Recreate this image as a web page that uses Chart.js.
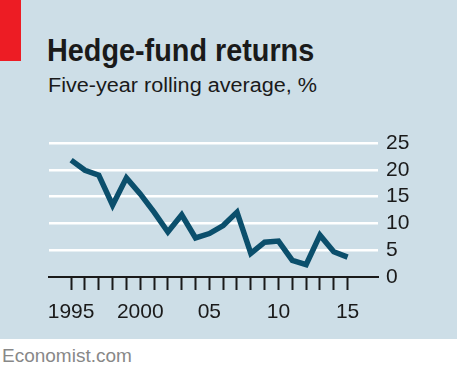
<!DOCTYPE html>
<html>
<head>
<meta charset="utf-8">
<script src="https://cdn.jsdelivr.net/npm/chart.js@4"></script>
<style>
  html, body { margin: 0; padding: 0; background: #fff; }
  body { width: 458px; height: 376px; position: relative; overflow: hidden; font-family: "Liberation Sans", sans-serif; }
  #panel { position: absolute; left: 0; top: 0; width: 457px; height: 339px; background: #cddee7; }
  #redbar { position: absolute; left: 0; top: 0; width: 21px; height: 61px; background: #ed1c24; }
  #title { position: absolute; left: 47px; top: 32px; font: bold 32px "Liberation Sans", sans-serif; color: #1a1a1a; white-space: nowrap; transform: scaleX(0.9); transform-origin: left top; }
  #subtitle { position: absolute; left: 48px; top: 74px; font: 20px "Liberation Sans", sans-serif; color: #1a1a1a; white-space: nowrap; transform: scaleX(1.08); transform-origin: left top; }
  #source { position: absolute; left: 2px; top: 345px; font: 19px "Liberation Sans", sans-serif; color: #888; white-space: nowrap; }
  #wrap { position: absolute; left: 0; top: 110px; width: 458px; height: 221px; }
</style>
</head>
<body>
<div id="panel"></div>
<div id="redbar"></div>
<div id="title">Hedge-fund returns</div>
<div id="subtitle">Five-year rolling average, %</div>
<div id="wrap"><canvas id="chart"></canvas></div>
<div id="source">Economist.com</div>
<script>
// Five-year rolling average hedge-fund returns, %
const years = [1995, 1996, 1997, 1998, 1999, 2000, 2001, 2002, 2003, 2004, 2005,
               2006, 2007, 2008, 2009, 2010, 2011, 2012, 2013, 2014, 2015];
const returns = [21.8, 19.9, 19.0, 13.4, 18.5, 15.5, 12.1, 8.4, 11.6, 7.3, 8.1,
                 9.6, 12.1, 4.4, 6.5, 6.7, 3.1, 2.3, 7.8, 4.7, 3.7];
const yTicks = [0, 5, 10, 15, 20, 25];
const xLabels = { 1995: '1995', 2000: '2000', 2005: '05', 2010: '10', 2015: '15' };

const ink = '#1a1a1a';

new Chart(document.getElementById('chart'), {
  type: 'line',
  data: {
    datasets: [{
      data: years.map((y, i) => ({ x: y, y: returns[i] })),
      borderColor: '#0b4f6c',
      borderWidth: 5.5,
      tension: 0,
      pointRadius: 0,
      fill: false,
      clip: false,
    }],
  },
  options: {
    responsive: true,
    maintainAspectRatio: false,
    animation: false,
    layout: { padding: { left: 49, top: 33, right: 0, bottom: 0 } },
    plugins: { legend: { display: false }, tooltip: { enabled: false } },
    scales: {
      x: {
        type: 'linear',
        min: 1993.4,
        max: 2017.2,
        afterBuildTicks: (scale) => { scale.ticks = years.map(v => ({ value: v })); },
        afterFit: (scale) => { scale.height = 54; },
        grid: { drawOnChartArea: false, drawTicks: true, tickLength: 13, tickWidth: 2, tickColor: ink },
        border: { display: true, color: ink, width: 2 },
        ticks: {
          autoSkip: false,
          maxRotation: 0,
          padding: 10,
          color: ink,
          font: { family: 'Liberation Sans', size: 21 },
          callback: (v) => xLabels[v] || '',
        },
      },
      y: {
        position: 'right',
        min: 0,
        max: 25,
        afterBuildTicks: (scale) => { scale.ticks = yTicks.map(v => ({ value: v })); },
        afterFit: (scale) => { scale.width = 80; },
        grid: {
          drawTicks: false,
          lineWidth: 2.5,
          color: (ctx) => ctx.tick && ctx.tick.value === 0 ? 'rgba(0,0,0,0)' : '#ffffff',
        },
        border: { display: false },
        ticks: {
          autoSkip: false,
          padding: 8,
          color: ink,
          font: { family: 'Liberation Sans', size: 21 },
        },
      },
    },
  },
});
</script>
</body>
</html>
